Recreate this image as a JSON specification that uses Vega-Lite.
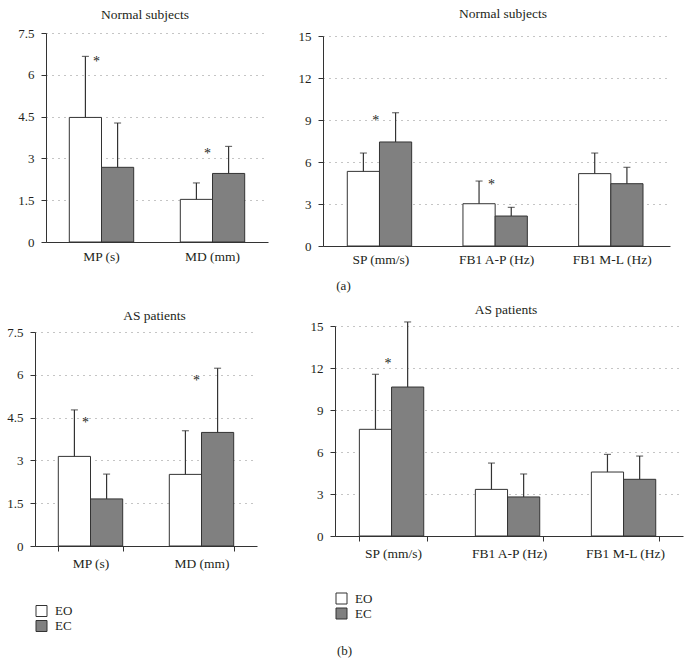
{
  "$schema": "https://vega.github.io/schema/vega-lite/v6.json",
  "padding": {"left": 6, "top": 7, "right": 2, "bottom": 2},
  "background": "white",
  "config": {
    "view": {"stroke": null},
    "font": "Liberation Serif",
    "axis": {"labelFont": "Liberation Serif", "labelFontSize": 13, "labelColor": "#231f20", "domainColor": "#333333", "tickColor": "#333333", "titleFont": "Liberation Serif", "titleFontSize": 13, "titleFontWeight": "normal", "titleColor": "#231f20"},
    "axisX": {"labelFontSize": 13.5},
    "title": {"font": "Liberation Serif", "fontSize": 13.5, "fontWeight": "normal", "color": "#231f20", "frame": "group"},
    "legend": {"labelFont": "Liberation Serif", "labelFontSize": 13, "labelColor": "#231f20"}
  },
  "datasets": {
    "bars": [
      {"panel": "p1", "cat": "MP (s)", "grp": "EO", "val": 4.47, "err": 6.66},
      {"panel": "p1", "cat": "MP (s)", "grp": "EC", "val": 2.68, "err": 4.27},
      {"panel": "p1", "cat": "MD (mm)", "grp": "EO", "val": 1.53, "err": 2.12},
      {"panel": "p1", "cat": "MD (mm)", "grp": "EC", "val": 2.46, "err": 3.43},
      {"panel": "p2", "cat": "SP (mm/s)", "grp": "EO", "val": 5.33, "err": 6.64},
      {"panel": "p2", "cat": "SP (mm/s)", "grp": "EC", "val": 7.43, "err": 9.52},
      {"panel": "p2", "cat": "FB1 A-P (Hz)", "grp": "EO", "val": 3.02, "err": 4.64},
      {"panel": "p2", "cat": "FB1 A-P (Hz)", "grp": "EC", "val": 2.14, "err": 2.76},
      {"panel": "p2", "cat": "FB1 M-L (Hz)", "grp": "EO", "val": 5.17, "err": 6.64},
      {"panel": "p2", "cat": "FB1 M-L (Hz)", "grp": "EC", "val": 4.45, "err": 5.62},
      {"panel": "p3", "cat": "MP (s)", "grp": "EO", "val": 3.14, "err": 4.77},
      {"panel": "p3", "cat": "MP (s)", "grp": "EC", "val": 1.65, "err": 2.52},
      {"panel": "p3", "cat": "MD (mm)", "grp": "EO", "val": 2.51, "err": 4.04},
      {"panel": "p3", "cat": "MD (mm)", "grp": "EC", "val": 3.98, "err": 6.23},
      {"panel": "p4", "cat": "SP (mm/s)", "grp": "EO", "val": 7.62, "err": 11.55},
      {"panel": "p4", "cat": "SP (mm/s)", "grp": "EC", "val": 10.64, "err": 15.29},
      {"panel": "p4", "cat": "FB1 A-P (Hz)", "grp": "EO", "val": 3.33, "err": 5.21},
      {"panel": "p4", "cat": "FB1 A-P (Hz)", "grp": "EC", "val": 2.79, "err": 4.43},
      {"panel": "p4", "cat": "FB1 M-L (Hz)", "grp": "EO", "val": 4.57, "err": 5.83},
      {"panel": "p4", "cat": "FB1 M-L (Hz)", "grp": "EC", "val": 4.05, "err": 5.71}
    ],
    "stars": [
      {"panel": "p1", "cat": "MP (s)", "val": 6.57, "s": "*"},
      {"panel": "p1", "cat": "MD (mm)", "val": 3.25, "s": "*"},
      {"panel": "p2", "cat": "SP (mm/s)", "val": 9.17, "s": "*"},
      {"panel": "p2", "cat": "FB1 A-P (Hz)", "val": 4.57, "s": "*"},
      {"panel": "p3", "cat": "MP (s)", "val": 4.4, "s": "*"},
      {"panel": "p3", "cat": "MD (mm)", "val": 5.9, "s": "*"},
      {"panel": "p4", "cat": "SP (mm/s)", "val": 12.48, "s": "*"}
    ]
  },
  "columns": 2,
  "spacing": {"row": 80, "column": 67},
  "align": "each",
  "bounds": "flush",
  "resolve": {"scale": {"fill": "independent"}},
  "concat": [
    {
      "width": 222, "height": 209,
      "title": {"text": "Normal subjects", "dx": -12, "offset": 6},
      "data": {"name": "bars"},
      "transform": [{"filter": "datum.panel == 'p1'"}],
      "encoding": {
        "x": {"field": "cat", "type": "nominal", "sort": ["MP (s)", "MD (mm)"], "scale": {"paddingInner": 0.42, "paddingOuter": 0.21}, "axis": {"title": null, "labelAngle": 0, "ticks": false, "tickSize": 0, "labelPadding": 7}},
        "y": {"field": "val", "type": "quantitative", "scale": {"domain": [0, 7.5], "nice": false}, "axis": {"title": null, "values": [0, 1.5, 3, 4.5, 6, 7.5], "labelExpr": "datum.value + ''", "grid": true, "gridDash": [1, 5], "gridColor": "#8a8a8a", "tickSize": 5, "labelPadding": 7}}
      },
      "layer": [
        {"mark": {"type": "bar", "stroke": "#333333", "strokeWidth": 1}, "encoding": {"xOffset": {"field": "grp", "sort": ["EO", "EC"]}, "fill": {"field": "grp", "type": "nominal", "scale": {"domain": ["EO", "EC"], "range": ["#ffffff", "#808080"]}, "legend": null}}},
        {"mark": {"type": "rule", "color": "#333333", "strokeWidth": 1.2}, "encoding": {"xOffset": {"field": "grp", "sort": ["EO", "EC"]}, "y2": {"field": "err"}}},
        {"mark": {"type": "tick", "color": "#333333", "size": 7, "thickness": 1.2}, "encoding": {"xOffset": {"field": "grp", "sort": ["EO", "EC"]}, "y": {"field": "err", "type": "quantitative", "axis": {"title": null}}}},
        {"data": {"name": "stars"}, "transform": [{"filter": "datum.panel == 'p1'"}], "mark": {"type": "text", "font": "Liberation Serif", "fontSize": 14, "baseline": "middle", "dx": -5, "dy": 3, "color": "#231f20"}, "encoding": {"text": {"field": "s"}}}
      ]
    },
    {
      "width": 335, "height": 213,
      "title": {"text": "Normal subjects", "dx": 0.5, "offset": 9.5},
      "data": {"name": "bars"},
      "transform": [{"filter": "datum.panel == 'p2'"}],
      "encoding": {
        "x": {"field": "cat", "type": "nominal", "sort": ["SP (mm/s)", "FB1 A-P (Hz)", "FB1 M-L (Hz)"], "scale": {"range": [-12, 335], "paddingInner": 0.42, "paddingOuter": 0.21}, "axis": {"title": "(a)", "titleX": 8, "titleY": 39, "titleAlign": "center", "titleBaseline": "middle", "labelAngle": 0, "ticks": false, "tickSize": 0, "labelPadding": 6}},
        "y": {"field": "val", "type": "quantitative", "scale": {"domain": [0, 15], "nice": false, "range": [213, 3]}, "axis": {"title": null, "offset": 12, "values": [0, 3, 6, 9, 12, 15], "labelExpr": "datum.value + ''", "grid": true, "gridDash": [1, 5], "gridColor": "#8a8a8a", "tickSize": 5, "labelPadding": 7}}
      },
      "layer": [
        {"mark": {"type": "bar", "stroke": "#333333", "strokeWidth": 1}, "encoding": {"xOffset": {"field": "grp", "sort": ["EO", "EC"]}, "fill": {"field": "grp", "type": "nominal", "scale": {"domain": ["EO", "EC"], "range": ["#ffffff", "#808080"]}, "legend": null}}},
        {"mark": {"type": "rule", "color": "#333333", "strokeWidth": 1.2}, "encoding": {"xOffset": {"field": "grp", "sort": ["EO", "EC"]}, "y2": {"field": "err"}}},
        {"mark": {"type": "tick", "color": "#333333", "size": 7, "thickness": 1.2}, "encoding": {"xOffset": {"field": "grp", "sort": ["EO", "EC"]}, "y": {"field": "err", "type": "quantitative", "axis": {"title": null}}}},
        {"data": {"name": "stars"}, "transform": [{"filter": "datum.panel == 'p2'"}], "mark": {"type": "text", "font": "Liberation Serif", "fontSize": 14, "baseline": "middle", "dx": -5, "dy": 3, "color": "#231f20"}, "encoding": {"text": {"field": "s"}}}
      ]
    },
    {
      "width": 211, "height": 220,
      "title": {"text": "AS patients", "dx": 3, "offset": 4},
      "data": {"name": "bars"},
      "transform": [{"filter": "datum.panel == 'p3'"}],
      "encoding": {
        "x": {"field": "cat", "type": "nominal", "sort": ["MP (s)", "MD (mm)"], "scale": {"range": [-11, 211], "paddingInner": 0.42, "paddingOuter": 0.21}, "axis": {"title": null, "labelAngle": 0, "ticks": true, "tickBand": "extent", "tickSize": 5, "labelPadding": 5}},
        "y": {"field": "val", "type": "quantitative", "scale": {"domain": [0, 7.5], "nice": false, "range": [220, 6]}, "axis": {"title": null, "offset": 11, "values": [0, 1.5, 3, 4.5, 6, 7.5], "labelExpr": "datum.value + ''", "grid": true, "gridDash": [1, 5], "gridColor": "#8a8a8a", "tickSize": 5, "labelPadding": 7}}
      },
      "layer": [
        {"mark": {"type": "bar", "stroke": "#333333", "strokeWidth": 1}, "encoding": {"xOffset": {"field": "grp", "sort": ["EO", "EC"]}, "fill": {"field": "grp", "type": "nominal", "scale": {"domain": ["EO", "EC"], "range": ["#ffffff", "#808080"]}, "legend": {"orient": "none", "legendX": -11, "legendY": 278.5, "title": null, "symbolType": "square", "symbolSize": 121, "symbolStrokeColor": "#333333", "symbolStrokeWidth": 1, "labelFontSize": 13, "labelOffset": 7, "rowPadding": 0, "padding": 0, "direction": "vertical"}}}},
        {"mark": {"type": "rule", "color": "#333333", "strokeWidth": 1.2}, "encoding": {"xOffset": {"field": "grp", "sort": ["EO", "EC"]}, "y2": {"field": "err"}}},
        {"mark": {"type": "tick", "color": "#333333", "size": 7, "thickness": 1.2}, "encoding": {"xOffset": {"field": "grp", "sort": ["EO", "EC"]}, "y": {"field": "err", "type": "quantitative", "axis": {"title": null}}}},
        {"data": {"name": "stars"}, "transform": [{"filter": "datum.panel == 'p3'"}], "mark": {"type": "text", "font": "Liberation Serif", "fontSize": 14, "baseline": "middle", "dx": -5, "dy": 3, "color": "#231f20"}, "encoding": {"text": {"field": "s"}}}
      ]
    },
    {
      "width": 348, "height": 210,
      "title": {"text": "AS patients", "dx": -3, "offset": 4},
      "data": {"name": "bars"},
      "transform": [{"filter": "datum.panel == 'p4'"}],
      "encoding": {
        "x": {"field": "cat", "type": "nominal", "sort": ["SP (mm/s)", "FB1 A-P (Hz)", "FB1 M-L (Hz)"], "scale": {"paddingInner": 0.42, "paddingOuter": 0.21}, "axis": {"title": "(b)", "titleX": 9, "titleY": 114, "titleAlign": "center", "titleBaseline": "middle", "labelAngle": 0, "ticks": true, "tickBand": "extent", "tickSize": 5, "labelPadding": 5}},
        "y": {"field": "val", "type": "quantitative", "scale": {"domain": [0, 15], "nice": false}, "axis": {"title": null, "values": [0, 3, 6, 9, 12, 15], "labelExpr": "datum.value + ''", "grid": true, "gridDash": [1, 5], "gridColor": "#8a8a8a", "tickSize": 5, "labelPadding": 7}}
      },
      "layer": [
        {"mark": {"type": "bar", "stroke": "#333333", "strokeWidth": 1}, "encoding": {"xOffset": {"field": "grp", "sort": ["EO", "EC"]}, "fill": {"field": "grp", "type": "nominal", "scale": {"domain": ["EO", "EC"], "range": ["#ffffff", "#808080"]}, "legend": {"orient": "none", "legendX": 0, "legendY": 266, "title": null, "symbolType": "square", "symbolSize": 121, "symbolStrokeColor": "#333333", "symbolStrokeWidth": 1, "labelFontSize": 13, "labelOffset": 7, "rowPadding": 0, "padding": 0, "direction": "vertical"}}}},
        {"mark": {"type": "rule", "color": "#333333", "strokeWidth": 1.2}, "encoding": {"xOffset": {"field": "grp", "sort": ["EO", "EC"]}, "y2": {"field": "err"}}},
        {"mark": {"type": "tick", "color": "#333333", "size": 7, "thickness": 1.2}, "encoding": {"xOffset": {"field": "grp", "sort": ["EO", "EC"]}, "y": {"field": "err", "type": "quantitative", "axis": {"title": null}}}},
        {"data": {"name": "stars"}, "transform": [{"filter": "datum.panel == 'p4'"}], "mark": {"type": "text", "font": "Liberation Serif", "fontSize": 14, "baseline": "middle", "dx": -5, "dy": 3, "color": "#231f20"}, "encoding": {"text": {"field": "s"}}}
      ]
    }
  ]
}
